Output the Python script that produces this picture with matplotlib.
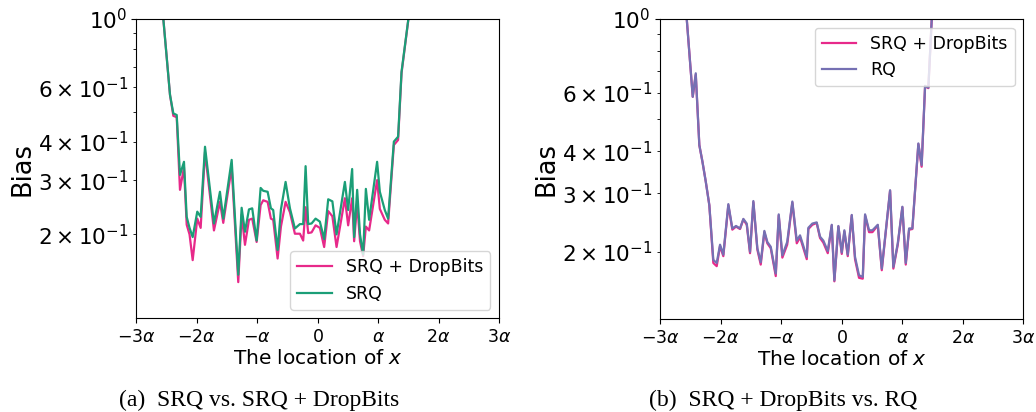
import matplotlib
matplotlib.use("Agg")
import matplotlib.pyplot as plt
import numpy as np

# ---------------- data (left panel) ----------------
x_left = [-2.60, -2.443, -2.388, -2.332, -2.278, -2.212, -2.167, -2.12, -2.068, -1.992,
          -1.936, -1.864, -1.716, -1.617, -1.562, -1.423, -1.314, -1.258, -1.203, -1.137,
          -1.083, -1.010, -0.944, -0.901, -0.828, -0.774, -0.736, -0.663, -0.608, -0.531,
          -0.459, -0.377, -0.294, -0.240, -0.200, -0.157, -0.101, -0.035, 0.036, 0.107,
          0.174, 0.243, 0.312, 0.450, 0.504, 0.570, 0.603, 0.653, 0.700, 0.752,
          0.797, 0.851, 0.983, 1.028, 1.110, 1.165, 1.260, 1.330, 1.387, 1.550]
srq_left = [1.27, 0.567, 0.494, 0.488, 0.312, 0.344, 0.228, 0.210, 0.196, 0.237,
            0.228, 0.385, 0.217, 0.275, 0.225, 0.349, 0.148, 0.244, 0.204, 0.241,
            0.243, 0.191, 0.283, 0.277, 0.275, 0.243, 0.240, 0.178, 0.241, 0.296,
            0.243, 0.209, 0.216, 0.216, 0.333, 0.216, 0.217, 0.225, 0.220, 0.193,
            0.260, 0.256, 0.200, 0.296, 0.240, 0.326, 0.196, 0.279, 0.200, 0.172,
            0.281, 0.223, 0.344, 0.275, 0.240, 0.225, 0.400, 0.415, 0.674, 1.19]
srqdb_left = [1.27, 0.567, 0.485, 0.480, 0.279, 0.330, 0.215, 0.200, 0.165, 0.225,
              0.210, 0.370, 0.206, 0.255, 0.218, 0.330, 0.140, 0.232, 0.185, 0.223,
              0.225, 0.189, 0.249, 0.258, 0.255, 0.225, 0.223, 0.167, 0.212, 0.255,
              0.236, 0.201, 0.201, 0.191, 0.245, 0.202, 0.203, 0.214, 0.210, 0.182,
              0.238, 0.229, 0.182, 0.262, 0.214, 0.262, 0.190, 0.253, 0.190, 0.170,
              0.212, 0.206, 0.300, 0.242, 0.223, 0.217, 0.390, 0.405, 0.667, 1.19]

# ---------------- data (right panel) ----------------
x_right = [-2.60, -2.46, -2.41, -2.351, -2.30, -2.245, -2.186, -2.12, -2.064, -2.009,
           -1.955, -1.872, -1.806, -1.745, -1.679, -1.624, -1.568, -1.514, -1.459, -1.393,
           -1.337, -1.277, -1.228, -1.172, -1.089, -1.04, -0.98, -0.90, -0.815, -0.742,
           -0.688, -0.577, -0.551, -0.485, -0.413, -0.358, -0.303, -0.230, -0.164, -0.121,
           -0.055, 0.001, 0.044, 0.100, 0.166, 0.220, 0.286, 0.348, 0.386, 0.452,
           0.507, 0.596, 0.662, 0.799, 0.853, 0.926, 1.002, 1.058, 1.113, 1.167,
           1.266, 1.32, 1.377, 1.431, 1.53]
rq_right = [1.25, 0.584, 0.687, 0.418, 0.373, 0.325, 0.276, 0.189, 0.185, 0.210,
            0.196, 0.278, 0.235, 0.239, 0.235, 0.251, 0.243, 0.200, 0.284, 0.205,
            0.186, 0.231, 0.214, 0.207, 0.172, 0.259, 0.195, 0.214, 0.283, 0.216,
            0.224, 0.193, 0.236, 0.243, 0.245, 0.222, 0.216, 0.201, 0.241, 0.164,
            0.239, 0.199, 0.232, 0.196, 0.258, 0.193, 0.170, 0.168, 0.259, 0.232,
            0.232, 0.241, 0.178, 0.306, 0.180, 0.212, 0.273, 0.185, 0.235, 0.235,
            0.423, 0.364, 0.630, 0.622, 1.44]
srqdb_right = [1.25, 0.584, 0.680, 0.418, 0.373, 0.325, 0.276, 0.185, 0.181, 0.208,
               0.194, 0.276, 0.233, 0.238, 0.234, 0.250, 0.241, 0.198, 0.282, 0.203,
               0.183, 0.229, 0.212, 0.205, 0.169, 0.257, 0.192, 0.210, 0.281, 0.212,
               0.221, 0.190, 0.234, 0.241, 0.244, 0.220, 0.213, 0.198, 0.240, 0.163,
               0.238, 0.197, 0.230, 0.194, 0.257, 0.190, 0.167, 0.166, 0.257, 0.229,
               0.229, 0.240, 0.176, 0.305, 0.178, 0.210, 0.272, 0.183, 0.233, 0.234,
               0.421, 0.360, 0.628, 0.620, 1.44]

xtick_vals = [-3, -2, -1, 0, 1, 2, 3]
xtick_labels = [r'$-3\alpha$', r'$-2\alpha$', r'$-\alpha$', r'$0$', r'$\alpha$', r'$2\alpha$', r'$3\alpha$']

PINK = '#e7298a'
GREEN = '#1b9e77'
PURPLE = '#7570b3'

fig = plt.figure(figsize=(10.36, 4.12), dpi=100)
ax1 = fig.add_axes([0.1316, 0.2270, 0.3501, 0.7269])
ax2 = fig.add_axes([0.6371, 0.2257, 0.3507, 0.7282])

ax1.plot(x_left, srqdb_left, color=PINK, lw=1.6, label='SRQ + DropBits')
ax1.plot(x_left, srq_left, color=GREEN, lw=1.6, label='SRQ')
ax1.set_yscale('log')
ax1.set_ylim(0.1067, 1.0)
ax1.legend(loc='lower right', fontsize=12.5)

ax2.plot(x_right, srqdb_right, color=PINK, lw=1.6, label='SRQ + DropBits')
ax2.plot(x_right, rq_right, color=PURPLE, lw=1.6, label='RQ')
ax2.set_yscale('log')
ax2.set_ylim(0.1256, 1.0)
ax2.legend(loc='upper right', fontsize=12.5)

for ax in (ax1, ax2):
    ax.set_xlim(-3, 3)
    ax.set_xticks(xtick_vals)
    ax.set_xticklabels(xtick_labels)
    ax.tick_params(axis='x', labelsize=12.5)
    ax.tick_params(axis='y', which='both', labelsize=15.5)
    ax.set_xlabel(r'The location of $x$', fontsize=14.5, labelpad=2)
    ax.set_ylabel('Bias', fontsize=18.5, labelpad=2)

fig.text(0.250, 0.027, '(a)  SRQ vs. SRQ + DropBits', ha='center', va='center',
         fontsize=17, family=['Liberation Serif', 'DejaVu Serif'])
fig.text(0.7563, 0.027, '(b)  SRQ + DropBits vs. RQ', ha='center', va='center',
         fontsize=17, family=['Liberation Serif', 'DejaVu Serif'])

fig.savefig('out.png', dpi=100)
